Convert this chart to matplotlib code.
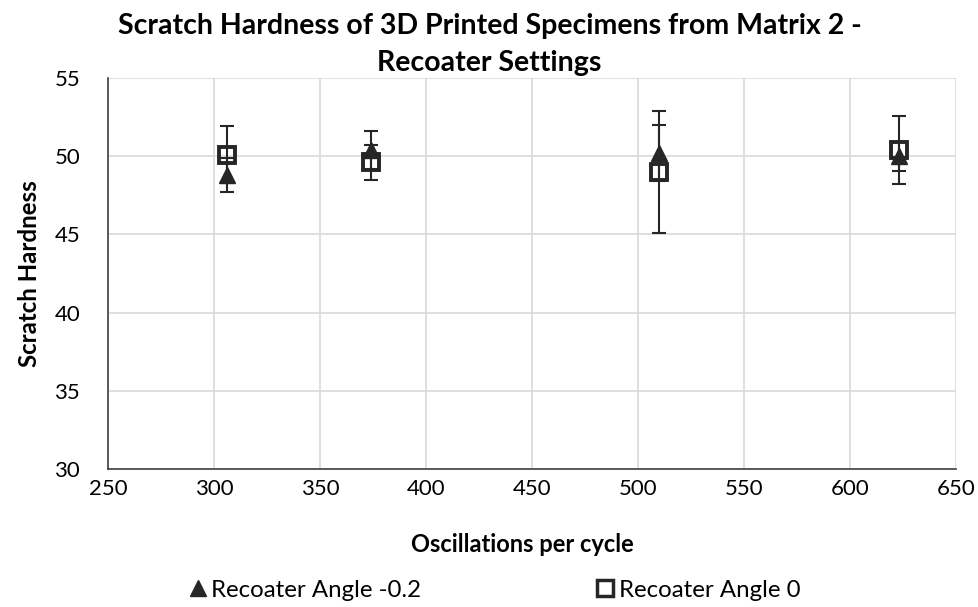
import matplotlib
matplotlib.use("Agg")
import matplotlib.pyplot as plt
from matplotlib.lines import Line2D

plt.rcParams['font.family'] = ['Lato', 'DejaVu Sans']

osc_a = [306, 374, 510, 623]
hard_a = [48.8, 50.4, 50.2, 50.0]
err_a = [1.1, 1.2, 1.8, 0.93]

osc_b = [306, 374, 510, 623]
hard_b = [50.1, 49.6, 49.0, 50.4]
err_b = [1.8, 1.1, 3.9, 2.2]

label_a = "Recoater Angle -0.2"
label_b = "Recoater Angle 0"
title = "Scratch Hardness of 3D Printed Specimens from Matrix 2 -\nRecoater Settings"

fig = plt.figure(figsize=(9.79, 6.07), dpi=100)
ax = fig.add_axes([0.1103, 0.2273, 0.8662, 0.6442])

ecol = '#262626'
ax.errorbar(osc_a, hard_a, yerr=err_a, fmt='none', ecolor=ecol, elinewidth=1.5,
            capsize=5, capthick=1.5, zorder=3)
ax.errorbar(osc_b, hard_b, yerr=err_b, fmt='none', ecolor=ecol, elinewidth=1.5,
            capsize=5, capthick=1.5, zorder=3)
ax.plot(osc_a, hard_a, linestyle='none', marker='^', markersize=11,
        color='#262626', zorder=4)
ax.plot(osc_b, hard_b, linestyle='none', marker='s', markersize=11,
        markerfacecolor='none', markeredgecolor='#262626', markeredgewidth=2.8, zorder=5)

ax.set_xlim(250, 650)
ax.set_ylim(30, 55)
ax.set_xticks(range(250, 651, 50))
ax.set_yticks(range(30, 56, 5))
ax.grid(True, color='#d9d9d9', linewidth=1.2)
ax.set_axisbelow(True)
for s in ['top', 'right']:
    ax.spines[s].set_visible(False)
for s in ['left', 'bottom']:
    ax.spines[s].set_color('#404040')
    ax.spines[s].set_linewidth(1.2)
ax.tick_params(axis='both', length=0, labelsize=16, colors='#000000')
ax.tick_params(axis='y', pad=20)
ax.tick_params(axis='x', pad=7)

fig.text(0.5, 0.978, title, ha='center', va='top', fontsize=20.5,
         fontweight='bold', linespacing=1.5)
ax.set_xlabel("Oscillations per cycle", fontsize=17, fontweight='bold')
ax.xaxis.set_label_coords(0.489, -0.164)
ax.set_ylabel("Scratch Hardness", fontsize=17.3, fontweight='bold', labelpad=10)

handles = [Line2D([], [], linestyle='none', marker='^', markersize=12, color='#262626'),
           Line2D([], [], linestyle='none', marker='s', markersize=12,
                  markerfacecolor='none', markeredgecolor='#262626', markeredgewidth=2.5)]
fig.legend(handles, [label_a, label_b], loc='center', bbox_to_anchor=(0.5037, 0.028),
           ncol=2, frameon=False, fontsize=17.3, handletextpad=0.05, columnspacing=7.16,
           handlelength=1.0)

fig.savefig("out.png", dpi=100)
